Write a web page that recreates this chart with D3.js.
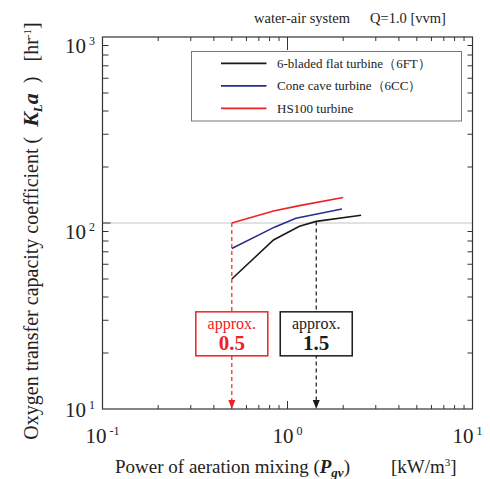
<!DOCTYPE html>
<html>
<head>
<meta charset="utf-8">
<script src="https://cdn.jsdelivr.net/npm/d3@7"></script>
<style>
  body { margin: 0; background: #fff; }
  svg, text { font-family: "Liberation Serif", "Times New Roman", serif; }
</style>
</head>
<body>
<script>
// data
var power6FT = [0.5, 0.84, 1.16, 1.43, 2.5];
var kla6FT   = [50, 81, 96, 102, 110];
var power6CC = [0.5, 0.85, 1.11, 1.97];
var kla6CC   = [73, 95, 106, 119];
var powerHS  = [0.5, 0.84, 1.16, 2.0];
var klaHS    = [100, 116, 124, 137];

var seriesNames = ["6-bladed flat turbine\uFF086FT\uFF09", "Cone cave turbine\uFF086CC\uFF09", "HS100 turbine"];
var seriesColors = ["#1a1a1a", "#2b2e8c", "#ee2224"];

var arrowPower = [0.5, 1.43];
var arrowStart = [100, 102];
var arrowLabels = ["0.5", "1.5"];
var arrowColors = ["#ee2224", "#1a1a1a"];

var xTickExp = [-1, 0, 1];
var yTickExp = [1, 2, 3];

var config = {
    width: 490,
    height: 479,
    left: 102.5, right: 472.5, top: 37, bottom: 409
}

var svg = d3.select("body").append("svg")
    .attr("width", config.width)
    .attr("height", config.height)
    .attr("font-family", "Liberation Serif")

var x = d3.scaleLog().domain([0.1, 10]).range([config.left, config.right])
var y = d3.scaleLog().domain([10, 1000]).range([config.bottom, config.top])

// grid line at 10^2
svg.append("line")
    .attr("x1", config.left).attr("x2", config.right)
    .attr("y1", y(100)).attr("y2", y(100))
    .attr("stroke", "#c4c4c4").attr("stroke-width", 1)

// ticks (all inside)
var minorX = [], minorY = []
;[0.1, 1].forEach(function(d) { for (var i = 2; i < 10; i++) minorX.push(d * i) })
;[10, 100].forEach(function(d) { for (var i = 2; i < 10; i++) minorY.push(d * i) })

var tickG = svg.append("g").attr("stroke", "#333").attr("stroke-width", 1)
function tick(x1, y1, x2, y2) {
    tickG.append("line").attr("x1", x1).attr("y1", y1).attr("x2", x2).attr("y2", y2)
}
minorX.forEach(function(v) {
    tick(x(v), config.bottom, x(v), config.bottom - 4)
    tick(x(v), config.top, x(v), config.top + 4)
})
tick(x(1), config.bottom, x(1), config.bottom - 8)
tick(x(1), config.top, x(1), config.top + 13)
minorY.forEach(function(v) {
    tick(config.left, y(v), config.left + 6, y(v))
    tick(config.right, y(v), config.right - 5, y(v))
})
tick(config.left, y(100), config.left + 8, y(100))

// frame
svg.append("rect")
    .attr("x", config.left).attr("y", config.top)
    .attr("width", config.right - config.left).attr("height", config.bottom - config.top)
    .attr("fill", "none").attr("stroke", "#333").attr("stroke-width", 1.2)

// x tick labels
xTickExp.forEach(function(e, i) {
    var t = svg.append("text")
        .attr("x", x(Math.pow(10, e)) + (i == 2 ? -5 : 0))
        .attr("y", 443)
        .attr("text-anchor", "middle")
        .attr("font-size", 21).attr("fill", "#222")
    t.append("tspan").text("10")
    t.append("tspan").attr("dx", 3).attr("dy", -8).attr("font-size", 12).text(e)
})

// y tick labels
yTickExp.forEach(function(e, i) {
    var t = svg.append("text")
        .attr("x", 95)
        .attr("y", y(Math.pow(10, e)) + (i == 0 ? 8 : 16))
        .attr("text-anchor", "end")
        .attr("font-size", 21).attr("fill", "#222")
    t.append("tspan").text("10")
    t.append("tspan").attr("dx", 3).attr("dy", -8).attr("font-size", 12).text(e)
})

// series
var line = d3.line().x(function(d) { return x(d[0]) }).y(function(d) { return y(d[1]) })
var series = [d3.zip(power6FT, kla6FT), d3.zip(power6CC, kla6CC), d3.zip(powerHS, klaHS)]

// arrows
arrowColors.forEach(function(c, i) {
    var px = x(arrowPower[i])
    svg.append("line")
        .attr("x1", px).attr("x2", px)
        .attr("y1", y(arrowStart[i])).attr("y2", config.bottom - 7)
        .attr("stroke", c).attr("stroke-width", 1.2)
        .attr("stroke-dasharray", "4,3")
    svg.append("path")
        .attr("d", "M" + (px - 3.5) + "," + (config.bottom - 9) + "L" + (px + 3.5) + "," + (config.bottom - 9) + "L" + px + "," + config.bottom + "Z")
        .attr("fill", c)
    var bx = px - 36, by = y(33.3)
    svg.append("rect")
        .attr("x", bx).attr("y", by).attr("width", 72).attr("height", 44)
        .attr("fill", "#fff").attr("stroke", c).attr("stroke-width", 1.5)
    svg.append("text")
        .attr("x", px).attr("y", by + 17)
        .attr("text-anchor", "middle").attr("font-size", 16).attr("fill", c)
        .text("approx.")
    svg.append("text")
        .attr("x", px).attr("y", by + 38)
        .attr("text-anchor", "middle").attr("font-size", 21).attr("font-weight", "bold").attr("fill", c)
        .text(arrowLabels[i])
})

svg.append("g").selectAll("path")
    .data(series)
    .enter()
    .append("path")
    .attr("d", line)
    .attr("fill", "none")
    .attr("stroke", function(d, i) { return seriesColors[i] })
    .attr("stroke-width", 1.6)

// legend
var legend = svg.append("g")
legend.append("rect")
    .attr("x", 191.5).attr("y", 51.5).attr("width", 270).attr("height", 69.5)
    .attr("fill", "#fff").attr("stroke", "#777").attr("stroke-width", 1)
seriesNames.forEach(function(name, i) {
    var ly = 63.3 + i * 22.5
    legend.append("line")
        .attr("x1", 221).attr("x2", 266.5).attr("y1", ly).attr("y2", ly)
        .attr("stroke", seriesColors[i]).attr("stroke-width", 1.8)
    legend.append("text")
        .attr("x", 277).attr("y", ly + 4.5)
        .attr("font-size", 13).attr("fill", "#222")
        .text(name)
})

// title
var title = svg.append("text")
    .attr("y", 23)
    .attr("font-size", 14.5).attr("fill", "#222")
title.append("tspan").attr("x", 254).text("water-air system")
title.append("tspan").attr("x", 370).text("Q=1.0 [vvm]")

// x label
var xl = svg.append("text")
    .attr("x", 115).attr("y", 473)
    .attr("font-size", 19).attr("fill", "#222")
xl.append("tspan").text("Power of aeration mixing (")
xl.append("tspan").attr("font-weight", "bold").attr("font-style", "italic").text("P")
xl.append("tspan").attr("font-weight", "bold").attr("font-style", "italic").attr("font-size", 13).attr("dy", 4).text("gv")
xl.append("tspan").attr("dy", -4).text(")")
xl.append("tspan").attr("x", 391).text("[kW/m")
xl.append("tspan").attr("font-size", 11).attr("dy", -7).text("3")
xl.append("tspan").attr("dy", 7).text("]")

// y label
var yl = svg.append("text")
    .attr("transform", "translate(38,231) rotate(-90)")
    .attr("text-anchor", "middle")
    .attr("font-size", 20).attr("fill", "#222")
    .attr("xml:space", "preserve")
yl.append("tspan").text("Oxygen transfer capacity coefficient (  ")
yl.append("tspan").attr("font-weight", "bold").attr("font-style", "italic").attr("font-size", 22).text("K")
yl.append("tspan").attr("font-weight", "bold").attr("font-style", "italic").attr("font-size", 13).attr("dy", 4).text("L")
yl.append("tspan").attr("font-weight", "bold").attr("font-style", "italic").attr("font-size", 22).attr("dy", -4).text("a")
yl.append("tspan").text("  )   [hr")
yl.append("tspan").attr("font-size", 11).attr("dy", -7).text("-1")
yl.append("tspan").attr("dy", 7).text("]")
</script>
</body>
</html>
